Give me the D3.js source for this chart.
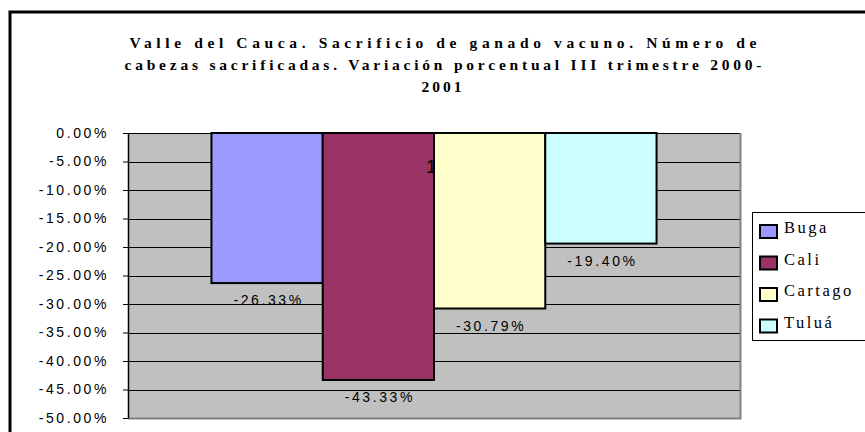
<!DOCTYPE html>
<html lang="es">
<head>
    <meta charset="UTF-8">
    <title>Sacrificio de ganado vacuno</title>
    <script src="https://cdnjs.cloudflare.com/ajax/libs/d3/7.8.5/d3.min.js"></script>
    <style>
        body { margin: 0; background: #fff; }
        svg { display: block; }
    </style>
</head>
<body>
    <div id="chart"></div>
    <script>
        // Data
        const categories = ["III trimestre 2000-2001"];
        const series = ["Buga", "Cali", "Cartago", "Tuluá"];
        const values = [-0.2633, -0.4333, -0.3079, -0.1940];
        const valueLabels = ["-26.33%", "-43.33%", "-30.79%", "-19.40%"];
        const colors = ["#9999FF", "#993366", "#FFFFCC", "#CCFFFF"];
        const yTicks = [0, -0.05, -0.10, -0.15, -0.20, -0.25, -0.30, -0.35, -0.40, -0.45, -0.50];
        const titleLines = [
            "Valle del Cauca. Sacrificio de ganado vacuno. Número de",
            "cabezas sacrificadas. Variación porcentual III trimestre 2000-",
            "2001"
        ];

        const W = 865, H = 432;
        const plot = {left: 128, right: 740, top: 133, bottom: 418};

        const svg = d3.select("#chart").append("svg")
            .attr("width", W)
            .attr("height", H);

        // Outer chart border (runs past the window on right/bottom)
        svg.append("rect")
            .attr("x", 10).attr("y", 12)
            .attr("width", 900).attr("height", 500)
            .attr("fill", "#fff")
            .attr("stroke", "#000")
            .attr("stroke-width", 3);

        // Title
        const titleY = [48, 70, 92];
        const titleLen = [627, 637, null];
        titleLines.forEach((t, i) => {
            const txt = svg.append("text")
                .attr("x", 443)
                .attr("y", titleY[i])
                .attr("text-anchor", "middle")
                .style("font-family", "'Liberation Serif', 'DejaVu Serif', serif")
                .style("font-weight", "bold")
                .style("font-size", "15.5px")
                .text(t);
            if (titleLen[i]) {
                txt.attr("textLength", titleLen[i]).attr("lengthAdjust", "spacing");
            } else {
                txt.style("letter-spacing", "3px");
            }
        });

        // Scales
        const x0 = d3.scaleBand()
            .domain(categories)
            .range([plot.left, plot.right])
            .paddingInner(0)
            .paddingOuter(0.1875);

        const x1 = d3.scaleBand()
            .domain(series)
            .range([0, x0.bandwidth()]);

        const y = d3.scaleLinear()
            .domain([-0.5, 0])
            .range([plot.bottom, plot.top]);

        // Plot background
        svg.append("rect")
            .attr("x", plot.left).attr("y", plot.top)
            .attr("width", plot.right - plot.left)
            .attr("height", plot.bottom - plot.top)
            .attr("fill", "#C0C0C0");

        // Gridlines
        svg.append("g")
            .selectAll("line")
            .data(yTicks)
            .join("line")
                .attr("x1", plot.left)
                .attr("x2", plot.right)
                .attr("y1", d => Math.round(y(d)) + 0.5)
                .attr("y2", d => Math.round(y(d)) + 0.5)
                .attr("stroke", "#000")
                .attr("stroke-width", 1);

        // Plot border right / bottom
        svg.append("path")
            .attr("d", `M${plot.right + 0.5},${plot.top} V${plot.bottom + 0.5} H${plot.left}`)
            .attr("fill", "none")
            .attr("stroke", "#808080")
            .attr("stroke-width", 2);

        // Y axis
        const yAxis = svg.append("g")
            .attr("transform", `translate(${plot.left},0)`)
            .call(d3.axisLeft(y)
                .tickValues(yTicks)
                .tickSize(5)
                .tickSizeOuter(0)
                .tickPadding(14)
                .tickFormat(d => (d * 100).toFixed(2) + "%"));
        yAxis.select(".domain").attr("stroke", "#000").attr("stroke-width", 1.5);
        yAxis.selectAll(".tick line").attr("stroke", "#000");
        yAxis.selectAll("text")
            .style("font-family", "Arial, 'Liberation Sans', sans-serif")
            .style("font-size", "14px")
            .style("letter-spacing", "2.6px")
            .attr("fill", "#000");

        // Bars
        const barG = svg.append("g").attr("transform", `translate(${x0(categories[0])},0)`);
        series.forEach((s, i) => {
            if (s === "Cartago") {
                // stray "1" label partly hidden behind the Cartago bar
                barG.append("text")
                    .attr("x", x1(s) - 8)
                    .attr("y", 173)
                    .style("font-family", "Arial, 'Liberation Sans', sans-serif")
                    .style("font-size", "19px")
                    .attr("fill", "#000")
                    .text("1");
            }
            barG.append("rect")
                .attr("x", x1(s))
                .attr("y", y(0))
                .attr("width", x1.bandwidth())
                .attr("height", y(values[i]) - y(0))
                .attr("fill", colors[i])
                .attr("stroke", "#000")
                .attr("stroke-width", 2);
        });

        // Value labels
        barG.selectAll(".vlabel")
            .data(series)
            .join("text")
                .attr("class", "vlabel")
                .attr("x", d => x1(d) + x1.bandwidth() / 2 + 1.5)
                .attr("y", (d, i) => y(values[i]) + 22)
                .attr("text-anchor", "middle")
                .style("font-family", "Arial, 'Liberation Sans', sans-serif")
                .style("font-size", "14px")
                .style("letter-spacing", "2.6px")
                .attr("fill", "#000")
                .text((d, i) => valueLabels[i]);

        // Legend
        const legend = svg.append("g").attr("transform", "translate(752,212)");
        legend.append("rect")
            .attr("x", 0.5).attr("y", 0.5)
            .attr("width", 130).attr("height", 128)
            .attr("fill", "#fff")
            .attr("stroke", "#000")
            .attr("stroke-width", 1);
        const item = legend.selectAll(".item")
            .data(series)
            .join("g")
                .attr("class", "item")
                .attr("transform", (d, i) => `translate(0,${13 + i * 31.5})`);
        item.append("rect")
            .attr("x", 8).attr("y", 0)
            .attr("width", 17).attr("height", 13)
            .attr("fill", (d, i) => colors[i])
            .attr("stroke", "#000")
            .attr("stroke-width", 2);
        item.append("text")
            .attr("x", 32)
            .attr("y", 8)
            .style("font-family", "'Liberation Serif', 'DejaVu Serif', serif")
            .style("font-size", "16.5px")
            .style("letter-spacing", "2.5px")
            .attr("fill", "#000")
            .text(d => d);
    </script>
</body>
</html>
